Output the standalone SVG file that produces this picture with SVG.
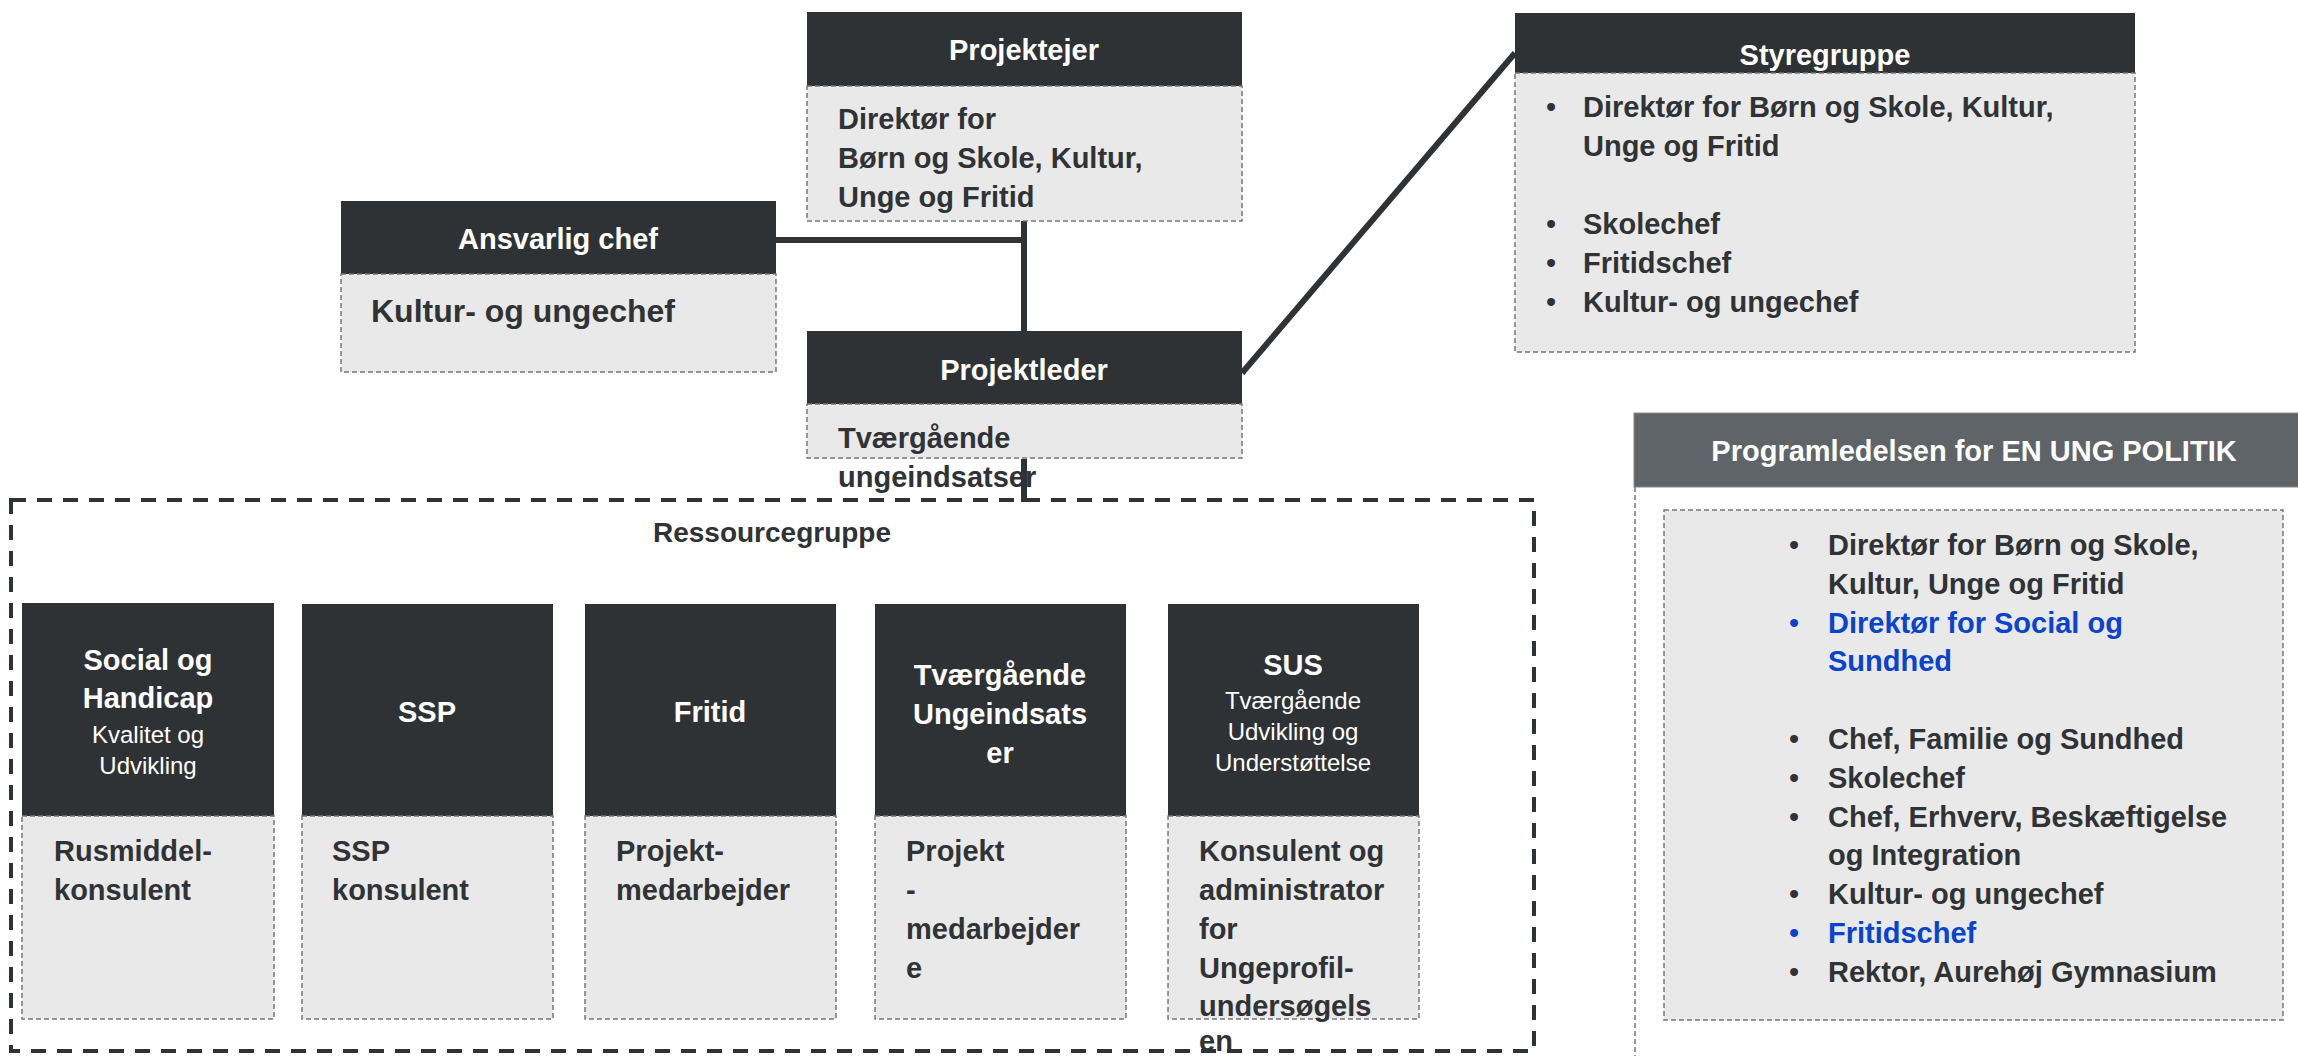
<svg xmlns="http://www.w3.org/2000/svg" width="2298" height="1056" viewBox="0 0 2298 1056">
<style>
text{font-family:"Liberation Sans",Arial,sans-serif;font-weight:bold;font-size:29px;fill:#303336}
.hd{fill:#2f3235}
.bd{fill:#e8e9e8;stroke:#777;stroke-width:1.5;stroke-dasharray:5 3}
.ht{fill:#ffffff;text-anchor:middle}
.sub{font-weight:normal;font-size:24px;fill:#ffffff;text-anchor:middle}
.blue{fill:#0a43cc}
.con{stroke:#303336;stroke-width:6;fill:none}
</style>
<rect width="2298" height="1056" fill="#ffffff"/>

<g id="connectors">
<line class="con" x1="1024" y1="221" x2="1024" y2="331"/>
<line class="con" x1="776" y1="240" x2="1024" y2="240"/>
<line class="con" x1="1242" y1="373" x2="1515" y2="53"/>
<line class="con" x1="1024" y1="459" x2="1024" y2="502"/>
</g>

<g id="projektejer">
<rect class="hd" x="807" y="12" width="435" height="74"/>
<rect class="bd" x="807" y="86" width="435" height="135"/>
<text class="ht" x="1024" y="60">Projektejer</text>
<text x="838" y="129">Direktør for</text>
<text x="838" y="168">Børn og Skole, Kultur,</text>
<text x="838" y="207">Unge og Fritid</text>
</g>

<g id="ansvarlig">
<rect class="hd" x="341" y="201" width="435" height="73"/>
<rect class="bd" x="341" y="274" width="435" height="98"/>
<text class="ht" x="558" y="249">Ansvarlig chef</text>
<text x="371" y="322" style="font-size:32px">Kultur- og ungechef</text>
</g>

<g id="projektleder">
<rect class="hd" x="807" y="331" width="435" height="73"/>
<rect class="bd" x="807" y="404" width="435" height="54"/>
<text class="ht" x="1024" y="380">Projektleder</text>
<text x="838" y="448">Tværgående</text>
<text x="838" y="487">ungeindsatser</text>
</g>

<g id="styregruppe">
<rect class="hd" x="1515" y="13" width="620" height="60"/>
<rect class="bd" x="1515" y="73" width="620" height="279"/>
<text class="ht" x="1825" y="65">Styregruppe</text>
<text x="1546" y="117" style="font-weight:normal">•</text>
<text x="1583" y="117">Direktør for Børn og Skole, Kultur,</text>
<text x="1583" y="156">Unge og Fritid</text>
<text x="1546" y="234" style="font-weight:normal">•</text>
<text x="1583" y="234">Skolechef</text>
<text x="1546" y="273" style="font-weight:normal">•</text>
<text x="1583" y="273">Fritidschef</text>
<text x="1546" y="312" style="font-weight:normal">•</text>
<text x="1583" y="312">Kultur- og ungechef</text>
</g>

<g id="programledelsen">
<rect x="1634" y="413" width="670" height="74" fill="#5f6468" stroke="#888" stroke-width="1"/>
<line x1="1635" y1="487" x2="1635" y2="1056" stroke="#777" stroke-width="1.5" stroke-dasharray="5 3"/>
<text class="ht" x="1974" y="461">Programledelsen for EN UNG POLITIK</text>
<rect class="bd" x="1664" y="510" width="619" height="510"/>
<text x="1789" y="555" style="font-weight:normal">•</text>
<text x="1828" y="555">Direktør for Børn og Skole,</text>
<text x="1828" y="594">Kultur, Unge og Fritid</text>
<text x="1789" y="633" class="blue" style="font-weight:normal">•</text>
<text x="1828" y="633" class="blue">Direktør for Social og</text>
<text x="1828" y="671" class="blue">Sundhed</text>
<text x="1789" y="749" style="font-weight:normal">•</text>
<text x="1828" y="749">Chef, Familie og Sundhed</text>
<text x="1789" y="788" style="font-weight:normal">•</text>
<text x="1828" y="788">Skolechef</text>
<text x="1789" y="827" style="font-weight:normal">•</text>
<text x="1828" y="827">Chef, Erhverv, Beskæftigelse</text>
<text x="1828" y="865">og Integration</text>
<text x="1789" y="904" style="font-weight:normal">•</text>
<text x="1828" y="904">Kultur- og ungechef</text>
<text x="1789" y="943" class="blue" style="font-weight:normal">•</text>
<text x="1828" y="943" class="blue">Fritidschef</text>
<text x="1789" y="982" style="font-weight:normal">•</text>
<text x="1828" y="982">Rektor, Aurehøj Gymnasium</text>
</g>

<g id="ressourcegruppe">
<rect x="11" y="500" width="1523" height="551" fill="none" stroke="#303336" stroke-width="4" stroke-dasharray="15 11"/>
<text x="772" y="542" text-anchor="middle" style="font-size:28px">Ressourcegruppe</text>
</g>

<g id="social">
<rect class="hd" x="22" y="603" width="252" height="213"/>
<rect class="bd" x="22" y="816" width="252" height="203"/>
<text class="ht" x="148" y="670">Social og</text>
<text class="ht" x="148" y="708">Handicap</text>
<text class="sub" x="148" y="743">Kvalitet og</text>
<text class="sub" x="148" y="774">Udvikling</text>
<text x="54" y="861">Rusmiddel-</text>
<text x="54" y="900">konsulent</text>
</g>

<g id="ssp">
<rect class="hd" x="302" y="604" width="251" height="212"/>
<rect class="bd" x="302" y="816" width="251" height="203"/>
<text class="ht" x="427" y="722">SSP</text>
<text x="332" y="861">SSP</text>
<text x="332" y="900">konsulent</text>
</g>

<g id="fritid">
<rect class="hd" x="585" y="604" width="251" height="212"/>
<rect class="bd" x="585" y="816" width="251" height="203"/>
<text class="ht" x="710" y="722">Fritid</text>
<text x="616" y="861">Projekt-</text>
<text x="616" y="900">medarbejder</text>
</g>

<g id="tvaergaaende">
<rect class="hd" x="875" y="604" width="251" height="212"/>
<rect class="bd" x="875" y="816" width="251" height="203"/>
<text class="ht" x="1000" y="685">Tværgående</text>
<text class="ht" x="1000" y="724">Ungeindsats</text>
<text class="ht" x="1000" y="763">er</text>
<text x="906" y="861">Projekt</text>
<text x="906" y="900">-</text>
<text x="906" y="939">medarbejder</text>
<text x="906" y="978">e</text>
</g>

<g id="sus">
<rect class="hd" x="1168" y="604" width="251" height="212"/>
<rect class="bd" x="1168" y="816" width="251" height="203"/>
<text class="ht" x="1293" y="675">SUS</text>
<text class="sub" x="1293" y="709">Tværgående</text>
<text class="sub" x="1293" y="740">Udvikling og</text>
<text class="sub" x="1293" y="771">Understøttelse</text>
<text x="1199" y="861">Konsulent og</text>
<text x="1199" y="900">administrator</text>
<text x="1199" y="939">for</text>
<text x="1199" y="978">Ungeprofil-</text>
<text x="1199" y="1016">undersøgels</text>
<text x="1199" y="1051">en</text>
</g>
</svg>
